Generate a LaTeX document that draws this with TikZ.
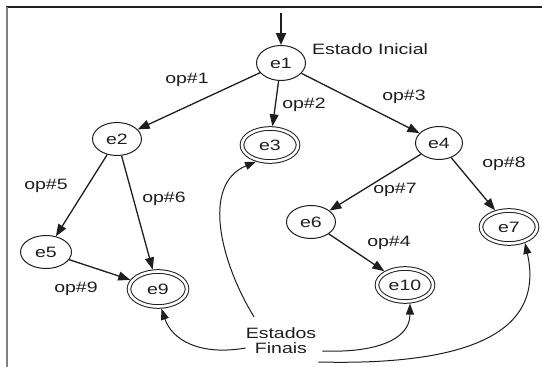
\documentclass[tikz,border=0pt]{standalone}
\usepackage{tikz}
\usepackage{fontspec}
\usetikzlibrary{shapes.geometric}
\usetikzlibrary{arrows.meta}
\newfontfamily\diafont{Liberation Sans}[FakeStretch = 1.3]
\newcommand{\diafonte}{\diafont\fontsize{15}{15}\selectfont}
\definecolor{tinta}{HTML}{1E1E1E}
\tikzset{
	estado/.style = {ellipse, draw = tinta, line width = 1pt, inner sep = 0pt, minimum width = 49pt, minimum height = 33pt, font = \diafonte, text = tinta},
	final/.style = {estado, double, double distance = 2.6pt, outer sep = 2.3pt, minimum width = 56pt, minimum height = 33pt},
	rotulo/.style = {font = \diafonte, text = tinta, inner sep = 0pt},
	transicao/.style = {-{Triangle[length = 12pt, width = 9pt]}, draw = tinta, line width = 1.3pt},
	seta/.style = {-{Triangle[length = 11pt, width = 8pt]}, draw = tinta, line width = 1pt}
}

\begin{document}
\begin{tikzpicture}[x = 1pt, y = -1pt]

					\useasboundingbox (0,0) rectangle (542,367);
					\draw[line width = 2.5pt, color = tinta] (6,7) -- (542,7);
					\draw[line width = 2pt, color = gray] (6.5,7) -- (6.5,367);

					\node[estado, minimum height = 35pt] (e1) at (281,63) {e1};
					\node[estado] (e2) at (117,139) {e2};
					\node[final] (e3) at (270,145) {e3};
					\node[estado, minimum width = 47pt] (e4) at (439,143) {e4};
					\node[estado, minimum width = 51pt] (e5) at (46,252) {e5};
					\node[estado] (e6) at (311,222) {e6};
					\node[final] (e7) at (509,227) {e7};
					\node[final, minimum width = 58pt, minimum height = 35pt] (e9) at (158,289) {e9};
					\node[final, minimum width = 56pt] (e10) at (405,285) {e10};

					\node[rotulo] (inicial) at (370,49) {Estado Inicial};
					\node[rotulo, align = center] (finais) at (281,341) {Estados\\Finais};

					\node[rotulo] (op1) at (187,80) {op\#1};
					\node[rotulo] (op2) at (304,105) {op\#2};
					\node[rotulo] (op3) at (404,97) {op\#3};
					\node[rotulo] (op4) at (389,243) {op\#4};
					\node[rotulo] (op5) at (46,186) {op\#5};
					\node[rotulo] (op6) at (164,199) {op\#6};
					\node[rotulo] (op7) at (395,190) {op\#7};
					\node[rotulo] (op8) at (504,164) {op\#8};
					\node[rotulo] (op9) at (76,289) {op\#9};

					\coordinate (inicio) at (281,13);
					\draw[transicao, line width = 2pt, -{Triangle[length = 12pt, width = 10pt]}] (inicio) -- (e1);

					\draw[transicao] (e1) -- (e2);
					\draw[transicao] (e1) -- (e3);
					\draw[transicao] (e1) -- (e4);
					\draw[transicao] (e2) -- (e5);
					\draw[transicao] (e2) -- (e9);
					\draw[transicao] (e5) -- (e9);
					\draw[transicao] (e4) -- (e6);
					\draw[transicao] (e4) -- (e7);
					\draw[transicao] (e6) -- (e10);

					\draw[seta] ([xshift = -27pt, yshift = 11pt]finais.north) .. controls (222,265) and (200,185) .. (e3.230);
					\draw[seta] ([yshift = -7pt]finais.west) .. controls (200,356) and (172,340) .. (e9.280);
					\draw[seta] ([xshift = 6pt, yshift = -10pt]finais.east) .. controls (375,353) and (410,340) .. (e10.285);
					\draw[seta] ([xshift = 2pt, yshift = -21pt]finais.east) .. controls (440,365) and (548,345) .. (e7.315);

\end{tikzpicture}
\end{document}
